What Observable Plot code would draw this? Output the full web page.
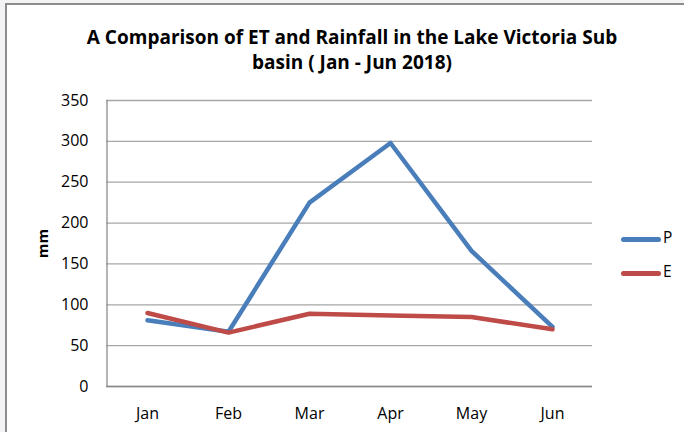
<!DOCTYPE html>
<html>
<head>
<meta charset="utf-8">
<script src="https://cdn.jsdelivr.net/npm/d3@7"></script>
<script src="https://cdn.jsdelivr.net/npm/@observablehq/plot@0.6"></script>
<style>
  html, body { margin: 0; padding: 0; background: #f3f3f5; }
  #wrap { position: relative; width: 684px; height: 432px; overflow: hidden; background: #f3f3f5; }
  #frame { position: absolute; left: 5px; top: 3px; width: 700px; height: 460px; background: #fff; border: 2px solid #8c8c8c; box-sizing: border-box; }
  #chart { position: absolute; left: 0; top: 0; }
  #title { position: absolute; left: 10px; width: 684px; top: 25px; text-align: center; font: bold 19px "Open Sans", sans-serif; line-height: 25px; color: #000; }
  .leg { position: absolute; font: 15.5px "Open Sans", sans-serif; color: #000; }
  .leg span.sw { position: absolute; left: 0; width: 40px; height: 5px; border-radius: 3px; }
  .leg span.lb { position: absolute; left: 42px; top: -11px; }
</style>
</head>
<body>
<div id="wrap">
  <div id="frame"></div>
  <div id="chart"></div>
  <div id="title">A Comparison of ET and Rainfall in the Lake Victoria Sub<br>basin ( Jan - Jun 2018)</div>
  <div class="leg" style="left:621px; top:237px;"><span class="sw" style="background:#4a7ebb"></span><span class="lb">P</span></div>
  <div class="leg" style="left:621px; top:271px;"><span class="sw" style="background:#be4b48"></span><span class="lb">E</span></div>
</div>
<script>
const months = ["Jan", "Feb", "Mar", "Apr", "May", "Jun"];
const seriesP = [81, 67, 225, 298, 166, 73];
const seriesE = [90, 66, 89, 87, 85, 70];
const yTicks = [0, 50, 100, 150, 200, 250, 300, 350];
const seriesNames = ["P", "E"];
const seriesColors = ["#4a7ebb", "#be4b48"];

const data = [
  ...months.map((m, i) => ({month: m, value: seriesP[i], series: seriesNames[0]})),
  ...months.map((m, i) => ({month: m, value: seriesE[i], series: seriesNames[1]}))
];

const chart = Plot.plot({
  width: 684,
  height: 432,
  marginLeft: 106,
  marginRight: 92,
  marginTop: 100,
  marginBottom: 46,
  style: {background: "transparent", fontFamily: "Open Sans, sans-serif", fontSize: "16px", color: "#000"},
  x: {type: "point", domain: months, padding: 0.5, label: null},
  y: {domain: [0, 350], ticks: yTicks, label: null},
  color: {domain: seriesNames, range: seriesColors},
  marks: [
    Plot.gridY(yTicks, {stroke: "#a6a6a6", strokeOpacity: 1, strokeWidth: 1.3}),
    Plot.ruleX([months[0]], {stroke: "#8c8c8c", strokeWidth: 1.3, dx: -40.5}),
    Plot.ruleY([0], {stroke: "#8c8c8c", strokeWidth: 1.3}),
    Plot.axisY({ticks: yTicks, tickSize: 0, tickPadding: 18, label: null, fontSize: "16px"}),
    Plot.axisX({tickSize: 0, tickPadding: 21, label: null, fontSize: "16px"}),
    Plot.line(data, {x: "month", y: "value", z: "series", stroke: "series", strokeWidth: 4.5, strokeLinejoin: "round", strokeLinecap: "round"}),
    Plot.text(["mm"], {frameAnchor: "left", textAnchor: "middle", dx: -63, rotate: -90, fontWeight: "bold", fontSize: "15px"})
  ]
});
document.getElementById("chart").appendChild(chart);
</script>
</body>
</html>
